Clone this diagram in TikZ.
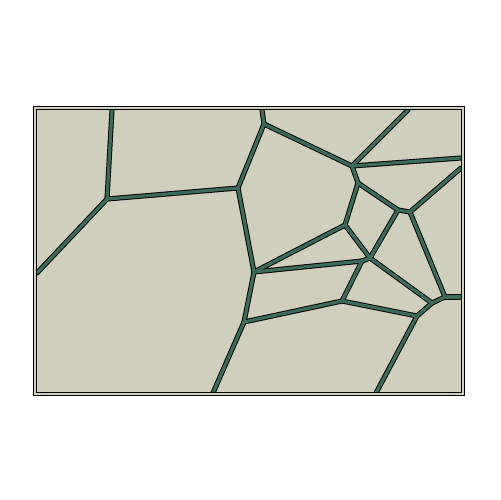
\documentclass[tikz,border=0pt]{standalone}
\definecolor{PaperTan}{RGB}{208,207,187}
\definecolor{WallGreen}{RGB}{58,108,90}

\begin{document}
\begin{tikzpicture}[x=0.02cm, y=-0.02cm,
    wallout/.style={black, line width=2.9pt, line cap=round, line join=round},
    wallin/.style={WallGreen, line width=1.8pt, line cap=round, line join=round}]
    \useasboundingbox (0,0) rectangle (500,500);

    % Sheet with its double frame
    \fill[PaperTan] (33.5,106.5) rectangle (464.5,395.5);

    % Cell corners (pixel grid, y down)
    \coordinate (tA) at (112,110);
    \coordinate (tB) at (262,110);
    \coordinate (tC) at (408,110);
    \coordinate (lA) at (37,273);
    \coordinate (rA) at (461,158);
    \coordinate (rB) at (461,168);
    \coordinate (rC) at (461,297);
    \coordinate (bA) at (376,393);
    \coordinate (bB) at (213,393);
    \coordinate (B)  at (107,199);
    \coordinate (C)  at (238,188);
    \coordinate (P1) at (264,124);
    \coordinate (P2) at (352,166);
    \coordinate (P3) at (358,183);
    \coordinate (Q1) at (398,210);
    \coordinate (Q2) at (410,212);
    \coordinate (R)  at (345,225);
    \coordinate (S)  at (370,258);
    \coordinate (T)  at (362,261);
    \coordinate (D)  at (254,272);
    \coordinate (E)  at (244,322);
    \coordinate (F)  at (342,301);
    \coordinate (G)  at (417,316);
    \coordinate (H1) at (432,303);
    \coordinate (H2) at (445,297);

    % Cell walls: black outline first, green core on top
    \begin{scope}
        \clip (36.5,109.5) rectangle (461.5,392.5);
        \foreach \s in {wallout,wallin} {
            \foreach \a/\b in {tA/B, B/lA, B/C, C/P1, P1/tB, P1/P2, P2/tC, P2/rA,
                               P2/P3, P3/Q1, P3/R, Q1/Q2, Q2/rB, Q1/S, R/S, R/D,
                               S/T, T/D, T/F, S/H1, Q2/H2, H2/rC, H1/H2, H1/G,
                               G/F, G/bA, F/E, E/D, E/bB, C/D} {
                \draw[\s] (\a) -- (\b);
            }
        }
    \end{scope}

    \draw[black, line width=0.6pt] (33.5,106.5) rectangle (464.5,395.5);
    \draw[black, line width=0.6pt] (36.5,109.5) rectangle (461.5,392.5);
\end{tikzpicture}
\end{document}
